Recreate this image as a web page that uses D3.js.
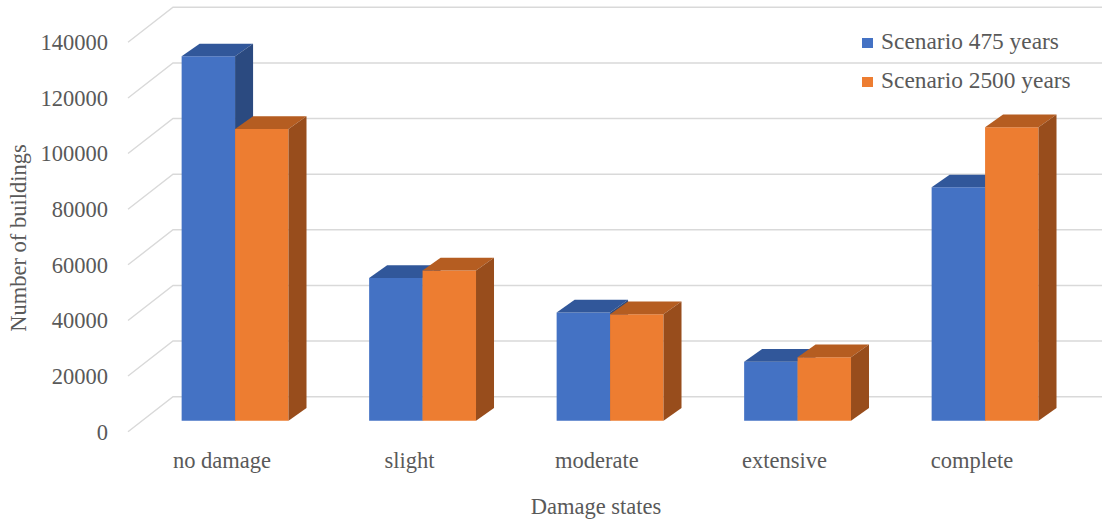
<!DOCTYPE html>
<html>
<head>
<meta charset="utf-8">
<script src="https://cdn.jsdelivr.net/npm/d3@7"></script>
<style>
  html, body { margin: 0; padding: 0; background: #fff; }
  svg { display: block; }
</style>
</head>
<body>
<svg id="chart" width="1102" height="520" font-family="'Liberation Serif', 'DejaVu Serif', serif"></svg>
<script>
// Damage-state counts for two hazard scenarios
const categories = ["no damage", "slight", "moderate", "extensive", "complete"];
const seriesNames = ["Scenario 475 years", "Scenario 2500 years"];
const scenario475 = [131000, 51300, 38900, 21200, 83900];
const scenario2500 = [104900, 54000, 38300, 22800, 105500];
const yTicks = [0, 20000, 40000, 60000, 80000, 100000, 120000, 140000];

const W = 1102, H = 520;
const FONT = "'Liberation Serif', 'DejaVu Serif', serif";
const TEXT = "#595959";
const svg = d3.select("#chart");

// 3D projection: front edge of the floor and the back wall
const frontX = 128, backX = 173;
const frontY0 = 431.7, backY0 = 396.7;
const wallTop = 7.3;          // back wall at 140000
const barBase = 420.7;        // front face bottom of bars
const depthDx = 18, depthDy = -12.7;

const yBack = d3.scaleLinear().domain([0, 140000]).range([backY0, wallTop]);
const yFront = d3.scaleLinear().domain([0, 140000]).range([frontY0, frontY0 - (backY0 - wallTop)]);
const yBar = d3.scaleLinear().domain([0, 140000]).range([barBase, barBase - (backY0 - wallTop)]);

const x = d3.scaleBand().domain(categories).range([128.2, 1065.7]).padding(0);
const step = x.step();
const xs = d3.scaleBand().domain(seriesNames)
  .range([x.bandwidth() / 2 - 0.215 * step, x.bandwidth() / 2 - 0.215 * step + 0.57 * step]);

const colors = {
  "Scenario 475 years": { front: "#4472C4", top: "#31579A", side: "#2B4A80" },
  "Scenario 2500 years": { front: "#ED7D31", top: "#B55D21", side: "#984D1C" }
};

// Gridlines: diagonal on the left side wall, horizontal along the back wall
const grid = svg.append("g").attr("stroke", "#D9D9D9").attr("stroke-width", 1.4).attr("fill", "none");
yTicks.forEach(t => {
  grid.append("path").attr("d", `M${frontX},${yFront(t)}L${backX},${yBack(t)}L${W},${yBack(t)}`);
});

// Value axis labels
svg.append("g").selectAll("text").data(yTicks).join("text")
  .attr("x", 108).attr("y", d => yFront(d)).attr("dy", "0.35em")
  .attr("text-anchor", "end").attr("font-size", 22.5)
  .attr("font-family", FONT).attr("fill", TEXT)
  .text(d => d);

// Bars as prisms: front face, top face, right side face
const data = [scenario475, scenario2500];
const bars = svg.append("g");
categories.forEach((c, i) => {
  seriesNames.forEach((s, j) => {
    const v = data[j][i];
    const x0 = x(c) + xs(s), x1 = x0 + xs.bandwidth();
    const yt = yBar(v), yb = yBar(0);
    const col = colors[s];
    const g = bars.append("g");
    g.append("path").attr("fill", col.front)
      .attr("d", `M${x0},${yb}L${x0},${yt}L${x1},${yt}L${x1},${yb}Z`);
    g.append("path").attr("fill", col.top)
      .attr("d", `M${x0},${yt}L${x0 + depthDx},${yt + depthDy}L${x1 + depthDx},${yt + depthDy}L${x1},${yt}Z`);
    g.append("path").attr("fill", col.side)
      .attr("d", `M${x1},${yt}L${x1 + depthDx},${yt + depthDy}L${x1 + depthDx},${yb + depthDy}L${x1},${yb}Z`);
  });
});

// Category labels
svg.append("g").selectAll("text").data(categories).join("text")
  .attr("x", d => x(d) + x.bandwidth() / 2).attr("y", 468)
  .attr("text-anchor", "middle").attr("font-size", 22.5)
  .attr("font-family", FONT).attr("fill", TEXT)
  .text(d => d);

// Axis titles
svg.append("text").attr("x", 596).attr("y", 514).attr("text-anchor", "middle")
  .attr("font-size", 22.5).attr("font-family", FONT).attr("fill", TEXT).text("Damage states");
svg.append("text").attr("transform", "translate(26,238) rotate(-90)")
  .attr("text-anchor", "middle").attr("font-size", 22.5)
  .attr("font-family", FONT).attr("fill", TEXT).text("Number of buildings");

// Legend
const legend = svg.append("g");
seriesNames.forEach((s, j) => {
  const ly = 38 + j * 39;
  legend.append("rect").attr("x", 862).attr("y", ly).attr("width", 11).attr("height", 10)
    .attr("fill", colors[s].front);
  legend.append("text").attr("x", 881).attr("y", ly + 11).attr("font-size", 23.4)
    .attr("font-family", FONT).attr("fill", TEXT).text(s);
});
</script>
</body>
</html>
